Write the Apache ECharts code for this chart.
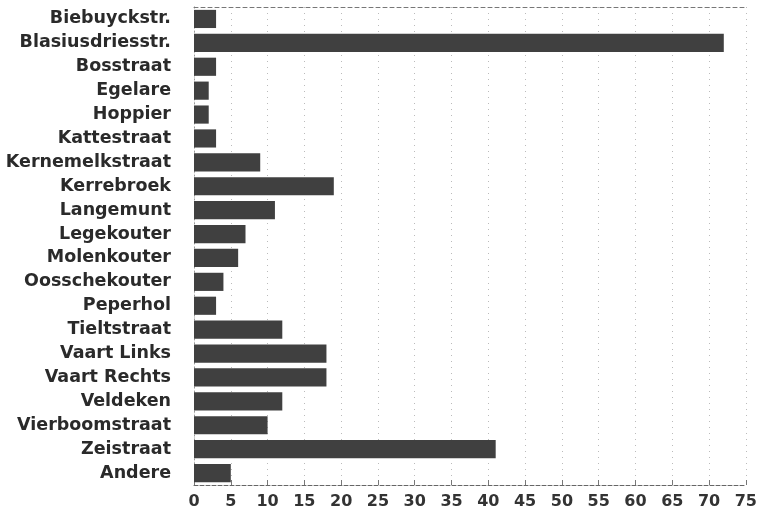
<!DOCTYPE html>
<html>
<head>
<meta charset="utf-8">
<script src="https://cdn.jsdelivr.net/npm/echarts@6/dist/echarts.min.js"></script>
<style>
html,body{margin:0;padding:0;background:#fff;}
#chart{width:760px;height:516px;}
</style>
</head>
<body>
<div id="chart"></div>
<script>
const categories = ["Biebuyckstr.","Blasiusdriesstr.","Bosstraat","Egelare","Hoppier","Kattestraat","Kernemelkstraat","Kerrebroek","Langemunt","Legekouter","Molenkouter","Oosschekouter","Peperhol","Tieltstraat","Vaart Links","Vaart Rechts","Veldeken","Vierboomstraat","Zeistraat","Andere"];
const values = [3,72,3,2,2,3,9,19,11,7,6,4,3,12,18,18,12,10,41,5];
const xTicks = {min:0, max:75, interval:5};

const chart = echarts.init(document.getElementById('chart'), null, {renderer:'canvas'});
chart.setOption({
  animation:false,
  backgroundColor:'#ffffff',
  grid:{left:194, right:12, top:7, bottom:31, containLabel:false},
  xAxis:[{
    type:'value', min:xTicks.min, max:xTicks.max, interval:xTicks.interval,
    axisLine:{show:true, lineStyle:{color:'#666', type:'dashed', width:1}},
    axisTick:{show:true, inside:true, length:5, lineStyle:{color:'#777'}},
    axisLabel:{color:'#333', fontFamily:'DejaVu Sans', fontWeight:'bold', fontSize:16, margin:9},
    splitLine:{show:true, lineStyle:{color:'#bbb', type:[1,5], width:1}}
  },{
    type:'value', position:'top', min:xTicks.min, max:xTicks.max, interval:xTicks.interval,
    axisLine:{show:true, lineStyle:{color:'#777', type:[4,3], width:1}},
    axisTick:{show:false}, axisLabel:{show:false}, splitLine:{show:false}
  }],
  yAxis:[{
    type:'category', data:categories, inverse:true,
    axisLine:{show:true, lineStyle:{color:'#ccc', type:[1,4]}},
    axisTick:{show:false},
    axisLabel:{color:'#2a2a2a', fontFamily:'DejaVu Sans', fontWeight:'bold', fontSize:17.5, margin:23}
  },{
    type:'category', data:categories, inverse:true, position:'right',
    axisLine:{show:true, lineStyle:{color:'#999', type:[1,3]}},
    axisTick:{show:false}, axisLabel:{show:false}
  }],
  series:[{
    type:'bar', data:values, xAxisIndex:0, yAxisIndex:0,
    barCategoryGap:'24%',
    itemStyle:{color:'#404040'}
  }]
});
</script>
</body>
</html>
